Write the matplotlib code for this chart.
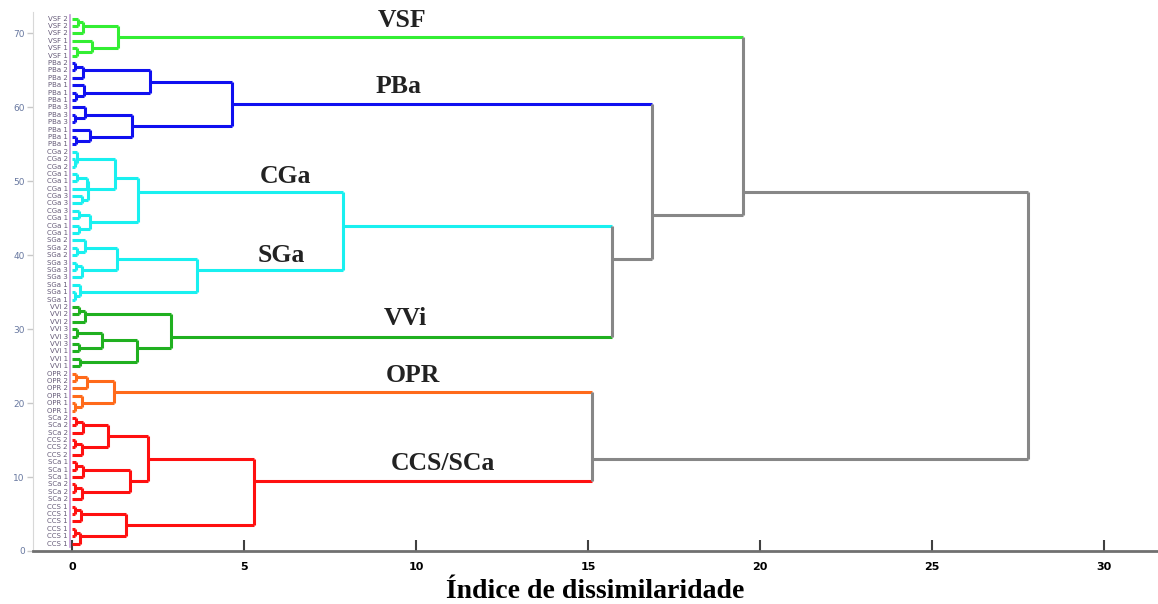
import matplotlib.pyplot as plt

# ---- data -------------------------------------------------------------
# leaves from bottom (y = 1) to top (y = 72)
group_names = ["CCS/SCa", "OPR", "VVi", "SGa", "CGa", "PBa", "VSF"]
group_sizes = [18, 6, 9, 9, 12, 12, 6]
group_colors = ["#ff1010", "#ff6a1a", "#20b020", "#19f0f0", "#19f0f0", "#1010f0", "#33ee33"]
group_leaf_labels = [
    ["CCS 1"] * 3 + ["CCS 1"] * 3 + ["SCa 2"] * 3 + ["SCa 1"] * 3 + ["CCS 2"] * 3 + ["SCa 2"] * 3,
    ["OPR 1"] * 3 + ["OPR 2"] * 3,
    ["VVi 1"] * 3 + ["VVi 3"] * 3 + ["VVi 2"] * 3,
    ["SGa 1"] * 3 + ["SGa 3"] * 3 + ["SGa 2"] * 3,
    ["CGa 1"] * 3 + ["CGa 3"] * 3 + ["CGa 1"] * 3 + ["CGa 2"] * 3,
    ["PBa 1"] * 3 + ["PBa 3"] * 3 + ["PBa 1"] * 3 + ["PBa 2"] * 3,
    ["VSF 1"] * 3 + ["VSF 2"] * 3,
]

# merges: (name, left, right, height); ints are leaf indices
merges = [
    # CCS/SCa
    ("c0a", 1, 2, 0.08), ("c0", 0, "c0a", 0.23),
    ("c1a", 4, 5, 0.10), ("c1", 3, "c1a", 0.27),
    ("c01", "c0", "c1", 1.58),
    ("c2a", 7, 8, 0.10), ("c2", 6, "c2a", 0.30),
    ("c3a", 10, 11, 0.12), ("c3", 9, "c3a", 0.32),
    ("c23", "c2", "c3", 1.70),
    ("c4a", 13, 14, 0.10), ("c4", 12, "c4a", 0.28),
    ("c5a", 16, 17, 0.12), ("c5", 15, "c5a", 0.33),
    ("c45", "c4", "c5", 1.05),
    ("c25", "c23", "c45", 2.20),
    ("ccs", "c01", "c25", 5.28),
    # OPR
    ("o0a", 18, 19, 0.10), ("o0", "o0a", 20, 0.29),
    ("o1a", 22, 23, 0.12), ("o1", 21, "o1a", 0.43),
    ("opr", "o0", "o1", 1.22),
    ("red", "ccs", "opr", 15.12),
    # VVi
    ("v0", 24, 25, 0.23),
    ("v1a", 26, 27, 0.20), ("v1b", 28, 29, 0.15), ("v1", "v1a", "v1b", 0.87),
    ("v01", "v0", "v1", 1.88),
    ("v2a", 31, 32, 0.20), ("v2", 30, "v2a", 0.38),
    ("vvi", "v01", "v2", 2.88),
    # SGa
    ("s0a", 33, 34, 0.10), ("s0", "s0a", 35, 0.23),
    ("s1a", 37, 38, 0.12), ("s1", 36, "s1a", 0.30),
    ("s2a", 39, 40, 0.15), ("s2", "s2a", 41, 0.38),
    ("s12", "s1", "s2", 1.32),
    ("sga", "s0", "s12", 3.65),
    # CGa
    ("g0", 42, 43, 0.20), ("g1", 44, 45, 0.20), ("g01", "g0", "g1", 0.52),
    ("g2", 46, 47, 0.30),
    ("g3a", 49, 50, 0.15), ("g3", 48, "g3a", 0.43),
    ("g23", "g2", "g3", 0.47),
    ("g4a", 51, 52, 0.10), ("g4", "g4a", 53, 0.15),
    ("g234", "g23", "g4", 1.25),
    ("cga", "g01", "g234", 1.92),
    ("cyan", "sga", "cga", 7.88),
    ("cv", "vvi", "cyan", 15.70),
    # PBa
    ("p0a", 54, 55, 0.12), ("p0", "p0a", 56, 0.52),
    ("p1a", 57, 58, 0.10), ("p1", "p1a", 59, 0.38),
    ("p01", "p0", "p1", 1.74),
    ("p2a", 60, 61, 0.12), ("p2", "p2a", 62, 0.35),
    ("p3a", 64, 65, 0.10), ("p3", 63, "p3a", 0.33),
    ("p23", "p2", "p3", 2.27),
    ("pba", "p01", "p23", 4.65),
    ("pcv", "cv", "pba", 16.85),
    # VSF
    ("f0a", 66, 67, 0.15), ("f0", "f0a", 68, 0.58),
    ("f1a", 70, 71, 0.17), ("f1", 69, "f1a", 0.32),
    ("vsf", "f0", "f1", 1.34),
    ("top", "pcv", "vsf", 19.50),
    ("root", "red", "top", 27.80),
]

# group label text positions (x, y)
label_x = [10.8, 9.9, 9.7, 6.1, 6.2, 9.5, 9.6]
label_y = [11.9, 23.8, 31.5, 40.0, 50.7, 62.8, 71.8]

# ---- build leaves -----------------------------------------------------
leaf_labels = []
leaf_colors = []
for labels, size, col in zip(group_leaf_labels, group_sizes, group_colors):
    leaf_labels += labels[:size]
    leaf_colors += [col] * size

GRAY = "#878787"
nodes = {}  # name -> (leaf ys, height, color)


def info(ref):
    if isinstance(ref, int):
        return [ref + 1], 0.0, leaf_colors[ref]
    return nodes[ref]


fig = plt.figure(figsize=(11.58, 6.04), dpi=100)
ax = fig.add_axes([33 / 1158, 53 / 604, 1125 / 1158, 539 / 604])

for name, a, b, h in merges:
    ya, ha, ca = info(a)
    yb, hb, cb = info(b)
    pa = sum(ya) / len(ya)
    pb = sum(yb) / len(yb)
    col = ca if ca == cb else GRAY
    ax.plot([ha, h], [pa, pa], color=ca, lw=2.2, solid_capstyle="butt")
    ax.plot([hb, h], [pb, pb], color=cb, lw=2.2, solid_capstyle="butt")
    ax.plot([h, h], [pa, pb], color=col, lw=2.2, solid_capstyle="butt")
    nodes[name] = (ya + yb, h, col)

# leaf labels
for i, lab in enumerate(leaf_labels):
    ax.text(-0.12, i + 1, lab, ha="right", va="center", fontsize=5,
            color="#4a3e60", alpha=0.85)
ax.plot([-0.06, -0.06], [0.5, 72.5], color="#c49ad8", lw=1.2)

for name, x, y in zip(group_names, label_x, label_y):
    ax.text(x, y, name, ha="center", va="center", fontsize=18.5,
            family="Liberation Serif", fontweight="bold", color="#222222")

ax.set_xlim(-1.13, 31.57)
ax.set_ylim(0, 72.9)
ax.set_xticks([0, 5, 10, 15, 20, 25, 30])
ax.set_yticks([0, 10, 20, 30, 40, 50, 60, 70])
for lab in ax.get_xticklabels():
    lab.set_fontweight("bold")
ax.tick_params(axis="x", direction="in", length=8, width=1.5, color="#404040",
               labelsize=8, pad=8)
ax.tick_params(axis="y", direction="out", length=4, width=1, color="#c8c8c8",
               labelsize=6.5, labelcolor="#6878a0", pad=2)
ax.spines["top"].set_visible(False)
ax.spines["right"].set_visible(False)
ax.spines["left"].set_color("#d8d8d8")
ax.spines["bottom"].set_color("#707070")
ax.spines["bottom"].set_linewidth(2)

ax.set_xlabel("Índice de dissimilaridade", family="Liberation Serif",
              fontweight="bold", fontsize=20, labelpad=5)

fig.savefig("out.png", dpi=100)
